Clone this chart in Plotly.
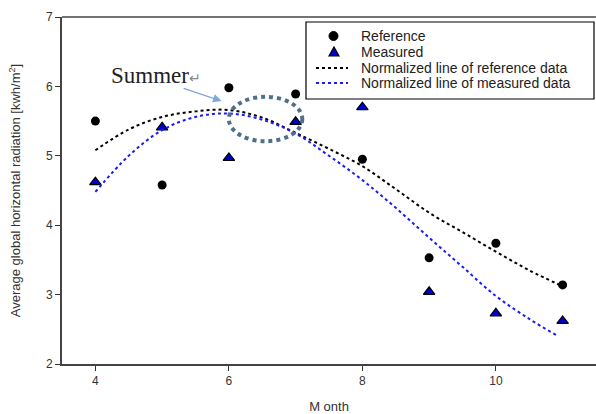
import plotly.graph_objects as go

months = [4, 5, 6, 7, 8, 9, 10, 11]
reference = [5.50, 4.58, 5.98, 5.89, 4.95, 3.53, 3.74, 3.14]
measured = [4.62, 5.41, 4.97, 5.49, 5.70, 3.04, 2.73, 2.62]

fit_x = [4, 4.5, 5, 5.5, 6, 6.5, 7, 7.5, 8, 8.5, 9, 9.5, 10, 10.5, 11]
fit_reference = [5.08, 5.38, 5.56, 5.64, 5.66, 5.55, 5.33, 5.10, 4.85, 4.52, 4.18, 3.90, 3.62, 3.35, 3.12]
fit_x_meas = [4, 4.5, 5, 5.5, 6, 6.5, 7, 7.5, 8, 8.5, 9, 9.5, 10, 10.5, 10.9]
fit_measured = [4.48, 5.00, 5.37, 5.56, 5.61, 5.52, 5.32, 5.00, 4.65, 4.25, 3.82, 3.40, 2.98, 2.65, 2.42]

legend_names = ["Reference", "Measured",
                "Normalized line of reference data", "Normalized line of measured data"]

# plot-area geometry (pixels) used for converting legend placement into paper coords
W, H, L, T, B = 596, 414, 62, 17, 50
PW, PH = W - L, H - T - B


def px(xp):
    return (xp - L) / PW


def py(yp):
    return (H - B - yp) / PH


fig = go.Figure()
fig.add_trace(go.Scatter(x=months, y=reference, mode="markers", name=legend_names[0],
                         marker=dict(symbol="circle", size=9, color="black")))
fig.add_trace(go.Scatter(x=months, y=measured, mode="markers", name=legend_names[1],
                         marker=dict(symbol="triangle-up", size=10, color="#0000cc",
                                     line=dict(color="black", width=1.2))))
fig.add_trace(go.Scatter(x=fit_x, y=fit_reference, mode="lines", name=legend_names[2],
                         line=dict(color="black", width=2, dash="dot", shape="spline")))
fig.add_trace(go.Scatter(x=fit_x_meas, y=fit_measured, mode="lines", name=legend_names[3],
                         line=dict(color="#1a1aff", width=2, dash="dot", shape="spline")))

# dotted ellipse highlight
fig.add_shape(type="circle", xref="x", yref="y", x0=6.0, x1=7.1, y0=5.21, y1=5.85,
              line=dict(color="#4f6f8f", width=4, dash="dot"))

fig.add_annotation(x=5.89, y=5.79, xref="x", yref="y", ax=5.30, ay=5.98, axref="x", ayref="y",
                   text="", showarrow=True, arrowhead=2, arrowsize=1.3, arrowwidth=1.3,
                   arrowcolor="#7fa8d8")
fig.add_annotation(x=4.20, y=6.15, xref="x", yref="y", xanchor="left", yanchor="middle",
                   text="Summer<span style='color:#888888;font-size:14px'>↵</span>",
                   showarrow=False,
                   font=dict(family="Liberation Serif, Times New Roman, serif", size=23, color="#222222"))

# ---- legend box drawn by hand (compact rows like the original) ----
fig.add_shape(type="rect", xref="paper", yref="paper", x0=px(306), x1=px(594), y0=py(99), y1=py(22),
              line=dict(color="black", width=1.2), fillcolor="white", layer="above")
row_y = [36, 52, 68, 83]
# circle marker
fig.add_shape(type="circle", xref="paper", yref="paper", x0=px(329), x1=px(338),
              y0=py(row_y[0] + 4.5), y1=py(row_y[0] - 4.5),
              fillcolor="black", line=dict(color="black", width=1), layer="above")
# triangle marker
tx, ty = 334, row_y[1]
fig.add_shape(type="path", xref="paper", yref="paper",
              path=f"M {px(tx-5)},{py(ty+4)} L {px(tx+5)},{py(ty+4)} L {px(tx)},{py(ty-5)} Z",
              fillcolor="#0000cc", line=dict(color="black", width=1.2), layer="above")
# line samples
for yy, col in [(row_y[2], "black"), (row_y[3], "#1a1aff")]:
    fig.add_shape(type="line", xref="paper", yref="paper", x0=px(316), x1=px(348), y0=py(yy), y1=py(yy),
                  line=dict(color=col, width=2, dash="dot"), layer="above")
for name, yy in zip(legend_names, row_y):
    fig.add_annotation(x=px(359), y=py(yy), xref="paper", yref="paper", xanchor="left", yanchor="middle",
                       text=name, showarrow=False,
                       font=dict(family="Liberation Sans, Arial, sans-serif", size=14, color="#222222"))

fig.update_layout(
    width=W, height=H,
    margin=dict(l=L, r=0, t=T, b=B),
    plot_bgcolor="white", paper_bgcolor="white",
    font=dict(family="Liberation Sans, Arial, sans-serif", size=12, color="#333333"),
    showlegend=False,
    xaxis=dict(range=[3.5, 11.5], tickvals=[4, 6, 8, 10], ticks="outside", ticklen=5,
               tickcolor="#333333", showgrid=False, zeroline=False,
               showline=True, linecolor="#444444", linewidth=2, mirror=False,
               title=dict(text="M onth", font=dict(size=13), standoff=14)),
    yaxis=dict(range=[2, 7], tickvals=[2, 3, 4, 5, 6, 7], ticks="outside", ticklen=5,
               tickcolor="#333333", showgrid=False, zeroline=False,
               showline=True, linecolor="#444444", linewidth=2,
               title=dict(text="Average global horizontal radiation [kwh/m<sup>2</sup>]",
                          font=dict(size=13), standoff=22)),
)
# top frame line
fig.add_shape(type="line", xref="paper", yref="paper", x0=0, x1=1, y0=1, y1=1,
              line=dict(color="#444444", width=1.5))

fig.write_html("out.html", config={"displayModeBar": False},
               post_script="document.body.style.margin='0';document.body.style.padding='0';")
